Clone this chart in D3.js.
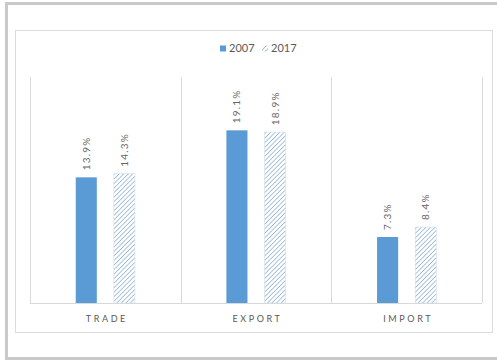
<!DOCTYPE html>
<html>
<head>
<meta charset="utf-8">
<script src="https://cdn.jsdelivr.net/npm/d3@7"></script>
<style>
  body { margin: 0; background: #fff; }
  svg { display: block; font-family: Lato, "Liberation Sans", sans-serif; }
</style>
</head>
<body>
<script>
const categories = ["TRADE", "EXPORT", "IMPORT"];
const years = ["2007", "2017"];
const values2007 = [13.9, 19.1, 7.3];
const values2017 = [14.3, 18.9, 8.4];

const W = 497, H = 360;
const plot = {left: 30, right: 482, top: 77, bottom: 303};
const BLUE = "#5b9bd5";
const HATCH = "#8fb2d6";
const TEXT = "#595959";

const svg = d3.select("body").append("svg")
    .attr("width", W)
    .attr("height", H);

// hatch pattern for 2017
const defs = svg.append("defs");
const pat = defs.append("pattern")
    .attr("id", "hatch")
    .attr("patternUnits", "userSpaceOnUse")
    .attr("width", 3.2)
    .attr("height", 3.2)
    .attr("patternTransform", "rotate(45)");
pat.append("rect").attr("width", 3.2).attr("height", 3.2).attr("fill", "#fff");
pat.append("line")
    .attr("x1", 0).attr("y1", 0).attr("x2", 0).attr("y2", 3.2)
    .attr("stroke", HATCH)
    .attr("stroke-width", 1.5);

// outer frame
svg.append("path")
    .attr("d", `M6.5,${H - 1.5} V3.5 H${W}`)
    .attr("fill", "none")
    .attr("stroke", "#c9c9c9")
    .attr("stroke-width", 3);
svg.append("line")
    .attr("x1", 5).attr("x2", W).attr("y1", 358.5).attr("y2", 358.5)
    .attr("stroke", "#c9c9c9").attr("stroke-width", 3);

// chart box
svg.append("rect")
    .attr("x", 15.5).attr("y", 30.5)
    .attr("width", 477).attr("height", 302)
    .attr("fill", "#fff")
    .attr("stroke", "#dcdcdc");

const x0 = d3.scaleBand()
    .domain(categories)
    .range([plot.left, plot.right]);

const x1 = d3.scaleBand()
    .domain(years)
    .range([0, x0.bandwidth()])
    .paddingInner(0.447)
    .paddingOuter(1.2);

const y = d3.scaleLinear()
    .domain([0, 25])
    .range([plot.bottom, plot.top]);

// category separators
const edges = [plot.left].concat(categories.map(c => x0(c) + x0.bandwidth()));
svg.selectAll(".sep")
    .data(edges).enter()
  .append("line")
    .attr("class", "sep")
    .attr("x1", d => Math.round(d) + 0.5)
    .attr("x2", d => Math.round(d) + 0.5)
    .attr("y1", plot.top)
    .attr("y2", plot.bottom)
    .attr("stroke", "#d9d9d9");

const rows = categories.map((c, i) => ({
  cat: c,
  bars: [
    {year: "2007", value: values2007[i]},
    {year: "2017", value: values2017[i]}
  ]
}));

const groups = svg.selectAll(".cat")
    .data(rows).enter()
  .append("g")
    .attr("transform", d => `translate(${x0(d.cat)},0)`);

groups.selectAll("rect")
    .data(d => d.bars).enter()
  .append("rect")
    .attr("x", d => x1(d.year))
    .attr("width", x1.bandwidth())
    .attr("y", d => y(d.value))
    .attr("height", d => y(0) - y(d.value))
    .attr("fill", d => d.year === "2007" ? BLUE : "url(#hatch)")
    .attr("stroke", d => d.year === "2007" ? "none" : "#cfdff0")
    .attr("stroke-width", 0.6);

groups.selectAll(".lbl")
    .data(d => d.bars).enter()
  .append("text")
    .attr("class", "lbl")
    .attr("transform", d => `translate(${x1(d.year) + x1.bandwidth() / 2 + 3.5},${y(d.value) - 7}) rotate(-90)`)
    .attr("font-size", 10)
    .attr("letter-spacing", 1.2)
    .attr("fill", "#666")
    .text(d => d.value.toFixed(1) + "%");

// baseline
svg.append("line")
    .attr("x1", plot.left).attr("x2", plot.right)
    .attr("y1", plot.bottom + 0.5).attr("y2", plot.bottom + 0.5)
    .attr("stroke", "#d9d9d9");

// category axis labels
svg.selectAll(".catlbl")
    .data(categories).enter()
  .append("text")
    .attr("x", d => x0(d) + x0.bandwidth() / 2 + 1.5)
    .attr("y", 322)
    .attr("text-anchor", "middle")
    .attr("font-size", 9)
    .attr("letter-spacing", 2.6)
    .attr("fill", TEXT)
    .text(d => d);

// legend
const legend = svg.append("g").attr("transform", "translate(220,45)");
const legItems = legend.selectAll("g")
    .data(years).enter()
  .append("g")
    .attr("transform", (d, i) => `translate(${i * 42},0)`);
legItems.append("rect")
    .attr("width", 6).attr("height", 6)
    .attr("y", 0.5)
    .attr("fill", d => d === "2007" ? BLUE : "url(#hatch)");
legItems.append("text")
    .attr("x", 9)
    .attr("y", 7)
    .attr("font-size", 11)
    .attr("fill", TEXT)
    .text(d => d);
</script>
</body>
</html>
